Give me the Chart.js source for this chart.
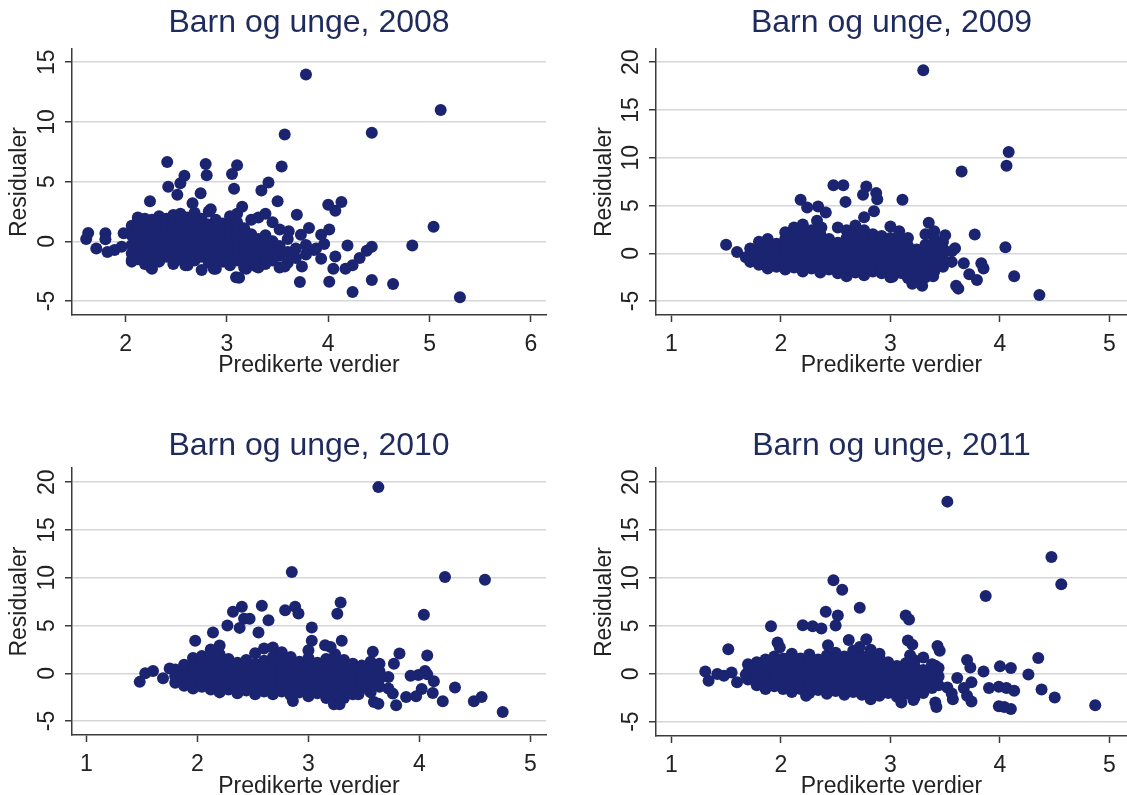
<!DOCTYPE html>
<html>
<head>
<meta charset="utf-8">
<script src="https://cdn.jsdelivr.net/npm/chart.js@4.4.1/dist/chart.umd.min.js"></script>
<style>
html, body { margin: 0; padding: 0; background: #fff; overflow: hidden; width: 1127px; height: 795px; }
canvas { position: absolute; }
</style>
</head>
<body>
<canvas id="c2008" width="560" height="410" style="left:0;top:0"></canvas>
<canvas id="c2009" width="567" height="410" style="left:560px;top:0"></canvas>
<canvas id="c2010" width="560" height="410" style="left:0;top:400px"></canvas>
<canvas id="c2011" width="567" height="410" style="left:560px;top:400px"></canvas>
<script>
'use strict'

const titles = ['Barn og unge, 2008', 'Barn og unge, 2009', 'Barn og unge, 2010', 'Barn og unge, 2011'];
const xLabel = 'Predikerte verdier';
const yLabel = 'Residualer';

const xTicks2008 = [2, 3, 4, 5, 6];
const yTicks2008 = [-5, 0, 5, 10, 15];
const xTicks = [1, 2, 3, 4, 5];
const yTicks = [-5, 0, 5, 10, 15, 20];

// [predicted, residual]
const points2008 = [
  [2.06,-1.7],[2.06,-1.0],[2.06,-0.3],[2.06,0.5],[2.06,1.3],
  [2.12,-1.5],[2.12,-0.7],[2.12,0.1],[2.12,0.9],[2.12,1.7],[2.12,2.0],
  [2.19,-1.9],[2.19,-1.1],[2.19,-0.4],[2.19,0.4],[2.19,1.2],[2.19,1.9],
  [2.26,-2.3],[2.26,-1.4],[2.26,-0.6],[2.26,0.2],[2.26,1.0],[2.26,1.8],
  [2.33,-1.7],[2.33,-0.9],[2.33,-0.1],[2.33,0.7],[2.33,1.5],[2.33,2.1],
  [2.40,-1.3],[2.40,-0.5],[2.40,0.3],[2.40,1.1],[2.40,1.9],
  [2.47,-1.9],[2.47,-1.0],[2.47,-0.2],[2.47,0.6],[2.47,1.4],[2.47,2.2],
  [2.54,-1.5],[2.54,-0.7],[2.54,0.1],[2.54,0.9],[2.54,1.7],[2.54,2.3],
  [2.61,-2.0],[2.61,-1.2],[2.61,-0.4],[2.61,0.4],[2.61,1.2],[2.61,2.0],
  [2.68,-1.6],[2.68,-0.8],[2.68,0.0],[2.68,0.8],[2.68,1.6],[2.68,2.4],
  [2.75,-2.4],[2.75,-1.3],[2.75,-0.5],[2.75,0.3],[2.75,1.1],[2.75,1.9],
  [2.82,-1.8],[2.82,-1.0],[2.82,-0.2],[2.82,0.6],[2.82,1.4],[2.82,2.5],
  [2.89,-2.3],[2.89,-1.4],[2.89,-0.6],[2.89,0.2],[2.89,1.0],[2.89,1.8],
  [2.96,-1.7],[2.96,-0.9],[2.96,-0.1],[2.96,0.7],[2.96,1.5],
  [3.03,-2.0],[3.03,-1.2],[3.03,-0.4],[3.03,0.4],[3.03,1.2],[3.03,2.1],
  [3.10,-1.6],[3.10,-0.8],[3.10,0.0],[3.10,0.8],[3.10,1.6],[3.10,2.3],
  [3.17,-2.2],[3.17,-1.3],[3.17,-0.5],[3.17,0.3],[3.17,1.1],
  [3.24,-1.8],[3.24,-1.0],[3.24,-0.2],[3.24,0.6],[3.24,1.8],
  [3.31,-2.2],[3.31,-1.4],[3.31,-0.6],[3.31,0.2],[3.31,2.0],
  [3.38,-1.9],[3.38,-1.1],[3.38,-0.3],[3.38,0.5],[3.38,2.3],
  [3.45,-1.6],[3.45,-0.8],[3.45,0.0],[3.45,1.6],
  [3.52,-2.2],[3.52,-1.2],[3.52,-0.4],[3.52,1.0],
  [3.60,-1.8],[3.60,-0.9],[3.60,0.2],
  [3.68,-1.4],[3.68,-0.6],[3.78,-1.1],[3.78,-0.3],[3.88,-0.6],
  [3.78,13.97],[5.11,11.0],[4.43,9.1],[3.57,8.94],[3.54,6.26],[2.41,6.65],[2.79,6.48],
  [3.10,6.37],[3.05,5.64],[2.80,5.53],[2.58,5.5],[2.54,4.86],[3.41,4.92],[3.34,4.25],
  [2.42,4.58],[2.51,3.91],[3.07,4.41],[2.74,4.02],[2.24,3.35],[2.66,3.18],[3.50,3.35],
  [4.0,3.07],[4.13,3.3],[4.07,2.57],[3.15,2.9],[3.69,2.23],[2.84,2.68],[5.04,1.23],
  [3.81,1.12],[4.01,1.0],[3.93,0.56],[3.73,0.56],[3.61,0.84],[4.19,-0.34],[4.83,-0.34],
  [4.43,-0.45],[4.38,-0.78],[3.96,-0.22],[3.86,-0.73],[3.93,-1.45],[4.07,-1.28],[4.31,-1.4],
  [4.24,-2.0],[4.17,-2.29],[4.05,-2.29],[3.74,-2.1],[4.43,-3.24],[4.01,-3.38],[3.72,-3.41],
  [4.64,-3.58],[4.24,-4.25],[5.30,-4.69],[3.09,-3.0],[3.12,-3.05],[3.19,-2.3],[3.57,-2.1],
  [3.29,-2.1],[2.87,-2.3],[2.59,-2.0],[2.25,-2.2],[2.06,-1.56],[1.71,-0.61],[1.61,0.2],
  [1.63,0.7],[1.80,0.67],[1.80,0.17],[1.82,-0.9],[1.98,0.67],[1.96,-0.45],[1.89,-0.73]
];

const points2009 = [
  [1.72,-0.9],[1.72,-0.2],[1.72,0.5],
  [1.80,-1.2],[1.80,-0.4],[1.80,0.4],[1.80,1.2],
  [1.88,-1.6],[1.88,-0.8],[1.88,0.0],[1.88,0.8],[1.88,1.5],
  [1.96,-1.4],[1.96,-0.6],[1.96,0.2],[1.96,1.0],
  [2.04,-1.7],[2.04,-0.9],[2.04,-0.1],[2.04,0.7],[2.04,1.5],[2.04,2.2],
  [2.12,-1.5],[2.12,-0.7],[2.12,0.1],[2.12,0.9],[2.12,1.7],[2.12,2.7],
  [2.20,-1.9],[2.20,-1.1],[2.20,-0.3],[2.20,0.5],[2.20,1.3],[2.20,2.1],[2.20,3.0],
  [2.28,-1.6],[2.28,-0.8],[2.28,0.0],[2.28,0.8],[2.28,1.6],[2.28,2.4],
  [2.36,-2.0],[2.36,-1.2],[2.36,-0.4],[2.36,0.4],[2.36,1.2],[2.36,2.0],
  [2.44,-1.7],[2.44,-0.9],[2.44,-0.1],[2.44,0.7],[2.44,1.5],
  [2.52,-2.1],[2.52,-1.3],[2.52,-0.5],[2.52,0.3],[2.52,1.1],[2.52,2.7],
  [2.60,-2.4],[2.60,-1.6],[2.60,-0.8],[2.60,0.0],[2.60,0.8],[2.60,1.6],[2.60,2.4],
  [2.68,-2.0],[2.68,-1.2],[2.68,-0.4],[2.68,0.4],[2.68,1.2],[2.68,2.0],[2.68,2.9],
  [2.76,-2.3],[2.76,-1.5],[2.76,-0.7],[2.76,0.1],[2.76,0.9],[2.76,1.7],[2.76,2.4],
  [2.84,-1.9],[2.84,-1.1],[2.84,-0.3],[2.84,0.5],[2.84,1.3],[2.84,2.0],
  [2.92,-2.1],[2.92,-1.3],[2.92,-0.5],[2.92,0.3],[2.92,1.1],[2.92,1.8],
  [3.00,-2.5],[3.00,-1.6],[3.00,-0.8],[3.00,0.0],[3.00,0.8],[3.00,1.6],[3.00,2.8],
  [3.08,-2.0],[3.08,-1.2],[3.08,-0.4],[3.08,0.4],[3.08,1.3],[3.08,2.3],
  [3.16,-2.6],[3.16,-1.7],[3.16,-0.9],[3.16,-0.1],[3.16,0.8],[3.16,1.6],
  [3.24,-2.9],[3.24,-2.0],[3.24,-1.2],[3.24,-0.4],[3.24,0.4],
  [3.32,-2.5],[3.32,-1.6],[3.32,-0.8],[3.32,0.0],[3.32,0.9],[3.32,2.0],
  [3.40,-1.9],[3.40,-1.0],[3.40,-0.2],[3.40,0.7],[3.40,1.5],[3.40,2.3],
  [3.48,-1.4],[3.48,-0.5],[3.48,0.5],[3.48,1.2],
  [3.56,-0.9],[3.56,0.2],
  [3.30,19.16],[4.08,10.6],[4.06,9.16],[3.65,8.57],[2.48,7.13],[2.57,7.13],[2.78,7.0],
  [2.75,6.12],[2.87,6.3],[2.88,5.66],[3.11,5.6],[2.18,5.6],[2.59,5.38],[2.24,4.8],
  [2.34,4.9],[2.41,4.27],[2.85,4.4],[2.76,3.78],[2.33,3.4],[2.37,2.7],[3.35,3.2],
  [3.77,1.96],[4.05,0.63],[4.13,-2.41],[4.36,-4.37],[1.50,0.9],[1.60,0.14],[1.68,-0.42],
  [3.60,-3.4],[3.62,-3.7],[3.29,-3.4],[3.20,-3.2],[3.83,-1.05],[3.85,-1.6],[3.79,-2.8],
  [3.72,-2.2],[3.67,-1.05],[3.50,1.9],[3.59,0.52],[3.39,-2.4],[3.02,-2.45],[3.11,-2.1]
];

const points2010 = [
  [1.80,-1.0],[1.80,-0.3],[1.80,0.4],
  [1.88,-1.3],[1.88,-0.6],[1.88,0.2],[1.88,0.9],
  [1.96,-1.6],[1.96,-0.8],[1.96,0.0],[1.96,0.8],[1.96,1.6],
  [2.04,-1.4],[2.04,-0.6],[2.04,0.2],[2.04,1.0],[2.04,1.8],
  [2.12,-1.7],[2.12,-0.9],[2.12,-0.1],[2.12,0.7],[2.12,1.5],[2.12,2.5],
  [2.20,-2.0],[2.20,-1.2],[2.20,-0.4],[2.20,0.4],[2.20,1.2],[2.20,2.0],[2.20,2.9],
  [2.28,-1.7],[2.28,-0.9],[2.28,-0.1],[2.28,0.7],[2.28,1.5],
  [2.36,-2.1],[2.36,-1.3],[2.36,-0.5],[2.36,0.3],[2.36,1.1],
  [2.44,-1.8],[2.44,-1.0],[2.44,-0.2],[2.44,0.6],[2.44,1.4],
  [2.52,-2.2],[2.52,-1.4],[2.52,-0.6],[2.52,0.2],[2.52,1.0],[2.52,2.1],
  [2.60,-1.9],[2.60,-1.1],[2.60,-0.3],[2.60,0.5],[2.60,1.3],[2.60,2.6],
  [2.68,-2.2],[2.68,-1.5],[2.68,-0.7],[2.68,0.1],[2.68,0.9],[2.68,1.7],[2.68,2.7],
  [2.76,-1.9],[2.76,-1.1],[2.76,-0.3],[2.76,0.5],[2.76,1.3],[2.76,2.2],
  [2.84,-2.3],[2.84,-1.5],[2.84,-0.7],[2.84,0.1],[2.84,0.9],[2.84,1.7],
  [2.92,-2.0],[2.92,-1.2],[2.92,-0.4],[2.92,0.4],[2.92,1.2],
  [3.00,-2.4],[3.00,-1.6],[3.00,-0.8],[3.00,0.0],[3.00,0.8],[3.00,1.6],[3.00,2.4],
  [3.08,-2.1],[3.08,-1.3],[3.08,-0.5],[3.08,0.3],[3.08,1.1],
  [3.16,-2.6],[3.16,-1.7],[3.16,-0.9],[3.16,-0.1],[3.16,0.7],[3.16,1.5],
  [3.24,-2.2],[3.24,-1.4],[3.24,-0.6],[3.24,0.2],[3.24,1.0],[3.24,2.0],
  [3.32,-2.6],[3.32,-1.8],[3.32,-1.0],[3.32,-0.2],[3.32,0.6],[3.32,1.4],
  [3.40,-2.2],[3.40,-1.4],[3.40,-0.6],[3.40,0.2],[3.40,1.0],
  [3.48,-1.6],[3.48,-0.8],[3.48,0.0],[3.48,0.8],
  [3.56,-2.0],[3.56,-1.2],[3.56,-0.4],[3.56,0.4],[3.56,1.2],
  [3.64,-1.4],[3.64,-0.6],[3.64,0.2],[3.64,1.0],
  [3.72,-1.6],[3.72,-0.4],
  [3.63,19.48],[2.85,10.6],[4.23,10.07],[4.59,9.79],[3.29,7.41],[3.26,6.22],[4.04,6.12],
  [2.58,7.06],[2.40,6.96],[2.32,6.43],[2.79,6.6],[2.88,6.96],[2.91,6.26],[2.42,5.7],
  [2.47,5.7],[2.64,5.56],[2.27,5.0],[2.38,4.75],[3.03,4.79],[2.55,4.27],[2.14,4.27],
  [3.30,3.4],[3.03,3.4],[1.98,3.4],[3.15,2.94],[3.20,2.76],[3.82,2.06],[4.07,1.85],
  [3.58,2.24],[3.77,1.0],[3.92,-0.25],[3.99,-0.17],[4.05,0.24],[4.07,-0.1],[4.13,-0.84],
  [4.02,-1.64],[4.12,-2.06],[4.21,-2.94],[4.32,-1.5],[4.49,-2.94],[4.56,-2.48],[4.75,-4.06],
  [3.97,-2.4],[3.88,-2.48],[3.79,-3.35],[3.76,-2.13],[3.59,-3.0],[3.63,-3.18],[3.45,-2.2],
  [3.23,-3.25],[3.28,-3.25],[2.86,-2.9],[1.48,-0.9],[1.53,0.0],[1.60,0.24],[1.69,-0.52],
  [1.75,0.5]
];

const points2011 = [
  [1.70,-0.6],[1.70,0.2],[1.70,1.0],
  [1.78,-1.2],[1.78,-0.4],[1.78,0.4],[1.78,1.2],
  [1.86,-1.6],[1.86,-0.8],[1.86,0.0],[1.86,0.8],[1.86,1.5],
  [1.94,-1.3],[1.94,-0.5],[1.94,0.3],[1.94,1.1],[1.94,1.8],
  [2.02,-1.6],[2.02,-0.8],[2.02,0.0],[2.02,0.8],[2.02,1.6],
  [2.10,-1.9],[2.10,-1.1],[2.10,-0.3],[2.10,0.5],[2.10,1.3],[2.10,2.1],
  [2.18,-1.6],[2.18,-0.8],[2.18,0.0],[2.18,0.8],[2.18,1.6],
  [2.26,-2.0],[2.26,-1.2],[2.26,-0.4],[2.26,0.4],[2.26,1.2],[2.26,2.0],
  [2.34,-1.7],[2.34,-0.9],[2.34,-0.1],[2.34,0.7],[2.34,1.5],
  [2.42,-2.1],[2.42,-1.3],[2.42,-0.5],[2.42,0.3],[2.42,1.1],[2.42,1.9],
  [2.50,-1.8],[2.50,-1.0],[2.50,-0.2],[2.50,0.6],[2.50,1.4],[2.50,2.2],
  [2.58,-2.2],[2.58,-1.4],[2.58,-0.6],[2.58,0.2],[2.58,1.0],[2.58,1.8],
  [2.66,-1.9],[2.66,-1.1],[2.66,-0.3],[2.66,0.5],[2.66,1.3],[2.66,2.4],
  [2.74,-2.2],[2.74,-1.4],[2.74,-0.6],[2.74,0.2],[2.74,1.0],[2.74,1.8],
  [2.82,-1.9],[2.82,-1.1],[2.82,-0.3],[2.82,0.5],[2.82,1.3],[2.82,2.3],
  [2.90,-2.3],[2.90,-1.5],[2.90,-0.7],[2.90,0.1],[2.90,0.9],[2.90,1.7],
  [2.98,-2.0],[2.98,-1.2],[2.98,-0.4],[2.98,0.4],[2.98,1.2],
  [3.06,-2.4],[3.06,-1.6],[3.06,-0.8],[3.06,0.0],[3.06,0.8],
  [3.14,-2.1],[3.14,-1.3],[3.14,-0.5],[3.14,0.3],[3.14,1.1],
  [3.22,-2.5],[3.22,-1.6],[3.22,-0.8],[3.22,0.0],[3.22,0.8],[3.22,1.4],
  [3.30,-2.0],[3.30,-1.2],[3.30,-0.4],[3.30,0.4],
  [3.38,-1.5],[3.38,-0.7],[3.38,0.1],[3.38,1.0],
  [3.44,-1.2],[3.44,-0.3],[3.44,0.6],
  [3.52,17.97],[4.47,12.2],[4.56,9.34],[2.48,9.76],[2.56,8.78],[3.87,8.11],[2.72,6.89],
  [2.41,6.47],[2.52,6.08],[2.50,5.03],[3.14,6.08],[3.17,5.66],[1.91,4.97],[2.20,5.07],
  [2.29,4.97],[2.37,4.72],[1.52,2.55],[1.97,3.25],[1.99,2.76],[2.43,2.97],[2.62,3.53],
  [2.78,3.6],[2.72,2.8],[2.82,2.5],[2.90,2.1],[3.16,3.46],[3.20,3.04],[3.18,1.92],
  [3.43,2.9],[3.45,2.41],[3.41,0.84],[3.30,1.7],[3.70,1.43],[3.73,0.66],[3.85,0.24],
  [4.0,0.77],[4.1,0.59],[4.26,-0.07],[4.35,1.64],[3.61,-0.45],[3.67,-1.5],[3.74,-0.9],
  [3.52,-1.43],[3.56,-2.06],[3.57,-2.66],[3.90,-1.5],[3.99,-1.36],[4.06,-1.5],[4.13,-1.78],
  [4.38,-1.64],[4.50,-2.48],[4.87,-3.29],[3.99,-3.39],[4.04,-3.46],[4.10,-3.67],[3.74,-2.9],
  [3.70,-2.3],[3.41,-3.0],[3.42,-3.46],[3.21,-2.13],[3.21,-2.73],[3.10,-3.0],[2.82,-2.66],
  [2.23,-2.3],[1.31,0.24],[1.34,-0.73],[1.42,-0.03],[1.48,-0.2],[1.55,0.14],[1.60,-0.9],
  [1.68,-0.1]
];

const navy = '#1b2470';
const titleColor = '#1f2b5c';
const textColor = '#222222';
const axisColor = '#3a3a3a';
const gridColor = '#d3d7da';
const family = "'Liberation Sans', Arial, sans-serif";

// keep the title centred over the plot area, like the original
const centreTitle = {
  id: 'centreTitle',
  afterLayout(chart) {
    if (chart.titleBlock) {
      chart.titleBlock.left = chart.chartArea.left;
      chart.titleBlock.right = chart.chartArea.right;
    }
  }
};

function noEdgePadding(s) {
  s.paddingLeft = 0;
  s.paddingRight = 0;
  s.paddingTop = 0;
  s.paddingBottom = 0;
}

function makePanel(id, title, points, xRange, yRange, xt, yt, box) {
  const ctx = document.getElementById(id).getContext('2d');
  return new Chart(ctx, {
    type: 'scatter',
    data: {
      datasets: [{
        data: points.map(p => ({ x: p[0], y: p[1] })),
        backgroundColor: navy,
        borderColor: navy,
        borderWidth: 0,
        pointRadius: 6
      }]
    },
    plugins: [centreTitle],
    options: {
      responsive: false,
      animation: false,
      events: [],
      layout: { autoPadding: false, padding: { left: 0, top: 0, bottom: 0, right: box.right } },
      plugins: {
        legend: { display: false },
        tooltip: { enabled: false },
        title: {
          display: true,
          text: title,
          color: titleColor,
          font: { family: family, size: 32, weight: 'normal' },
          padding: { top: box.titleTop, bottom: box.titleBottom }
        }
      },
      scales: {
        x: {
          type: 'linear',
          min: xRange[0],
          max: xRange[1],
          bounds: 'data',
          afterBuildTicks: s => { s.ticks = xt.map(v => ({ value: v })); },
          afterFit: s => { s.height = box.xh; noEdgePadding(s); },
          grid: { drawOnChartArea: false, drawTicks: true, tickLength: 7, tickColor: axisColor, tickWidth: 1.5 },
          border: { display: true, color: axisColor, width: 1.5 },
          ticks: { color: textColor, font: { family: family, size: 23 }, padding: 9, maxRotation: 0, autoSkip: false },
          title: {
            display: true,
            text: xLabel,
            color: textColor,
            font: { family: family, size: 23 },
            padding: { top: 0, bottom: box.xTitlePad }
          }
        },
        y: {
          type: 'linear',
          min: yRange[0],
          max: yRange[1],
          bounds: 'data',
          afterBuildTicks: s => { s.ticks = yt.map(v => ({ value: v })); },
          afterFit: s => { s.width = box.yw; noEdgePadding(s); },
          grid: { color: gridColor, lineWidth: 1.5, drawTicks: true, tickLength: 7, tickColor: axisColor, tickWidth: 1.5 },
          border: { display: true, color: axisColor, width: 1.5 },
          ticks: { color: textColor, font: { family: family, size: 23 }, padding: 5, minRotation: 90, maxRotation: 90, crossAlign: 'center', autoSkip: false },
          title: {
            display: true,
            text: yLabel,
            color: textColor,
            font: { family: family, size: 23 },
            padding: { top: box.yTitlePad, bottom: 0 }
          }
        }
      }
    }
  });
}

makePanel('c2008', titles[0], points2008, [1.47, 6.15], [-6.17, 16.09], xTicks2008, yTicks2008,
  { titleTop: 4.4, titleBottom: 6.4, xh: 95, yw: 72, right: 14, xTitlePad: 31, yTitlePad: 6 });
makePanel('c2009', titles[1], points2009, [0.86, 5.16], [-6.46, 21.36], xTicks, yTicks,
  { titleTop: 4.4, titleBottom: 6.4, xh: 95, yw: 96, right: 0, xTitlePad: 31, yTitlePad: 31 });
makePanel('c2010', titles[2], points2010, [0.87, 5.14], [-6.46, 21.46], xTicks, yTicks,
  { titleTop: 27.4, titleBottom: 2.4, xh: 75, yw: 72, right: 14, xTitlePad: 10, yTitlePad: 6 });
makePanel('c2011', titles[3], points2011, [0.86, 5.16], [-6.5, 21.46], xTicks, yTicks,
  { titleTop: 27.4, titleBottom: 2.4, xh: 74, yw: 96, right: 0, xTitlePad: 10, yTitlePad: 31 });
</script>
</body>
</html>
